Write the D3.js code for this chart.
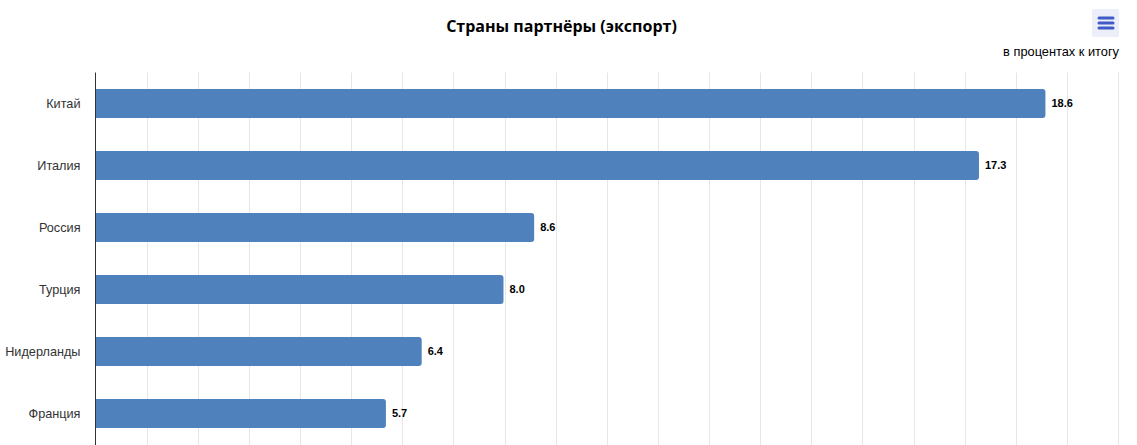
<!DOCTYPE html>
<html>
<head>
<meta charset="utf-8">
<script src="https://cdn.jsdelivr.net/npm/d3@7"></script>
<style>
  body { margin: 0; background: #fff; }
  svg { display: block; }
</style>
</head>
<body>
<div id="chart"></div>
<script>
// chart data
const categories = ["Китай", "Италия", "Россия", "Турция", "Нидерланды", "Франция"];
const values = [18.6, 17.3, 8.6, 8.0, 6.4, 5.7];
const gridTicks = d3.range(0, 21, 1);

const width = 1137, height = 445;
const margin = { top: 72.5, right: 19, bottom: 0.5, left: 95.5 };

const svg = d3.select("#chart").append("svg")
    .attr("width", width)
    .attr("height", height);

const x = d3.scaleLinear()
    .domain([0, 20])
    .range([margin.left, width - margin.right]);

const y = d3.scaleBand()
    .domain(categories)
    .range([margin.top, height - margin.bottom])
    .paddingInner(0.53)
    .paddingOuter(0.265);

// vertical grid lines
svg.append("g")
    .selectAll("line")
    .data(gridTicks.slice(1))
    .enter()
    .append("line")
    .attr("x1", d => Math.round(x(d)) + 0.5)
    .attr("x2", d => Math.round(x(d)) + 0.5)
    .attr("y1", margin.top)
    .attr("y2", height)
    .attr("stroke", "#e6e6e6")
    .attr("stroke-width", 1);

// bars with rounded right end
const r = 3;
const barPath = (d, i) => {
    const x0 = x(0), x1 = x(d) - 1, y0 = y(categories[i]), h = y.bandwidth();
    return `M${x0},${y0}H${x1 - r}Q${x1},${y0} ${x1},${y0 + r}` +
           `V${y0 + h - r}Q${x1},${y0 + h} ${x1 - r},${y0 + h}H${x0}Z`;
};

svg.append("g")
    .selectAll("path")
    .data(values)
    .enter()
    .append("path")
    .attr("class", "bar")
    .attr("d", barPath)
    .attr("fill", "#4f81bd");

// data labels
svg.append("g")
    .selectAll("text")
    .data(values)
    .enter()
    .append("text")
    .attr("x", d => x(d) + 5)
    .attr("y", (d, i) => y(categories[i]) + y.bandwidth() / 2)
    .attr("dy", "0.35em")
    .attr("font-family", "Liberation Sans, Arial, sans-serif")
    .attr("font-size", 11)
    .attr("font-weight", "bold")
    .attr("fill", "#000")
    .text(d => d.toFixed(1));

// category axis
const yAxis = svg.append("g")
    .attr("transform", `translate(${margin.left},0)`)
    .call(d3.axisLeft(y).tickSize(0).tickPadding(15));

yAxis.select(".domain")
    .attr("stroke", "#333")
    .attr("d", `M0,${margin.top}V${height}`);

yAxis.selectAll("text")
    .attr("font-family", "Liberation Sans, Arial, sans-serif")
    .attr("font-size", 12.7)
    .attr("fill", "#333");

// title and subtitle
svg.append("text")
    .attr("x", width / 2 - 7)
    .attr("y", 32)
    .attr("text-anchor", "middle")
    .attr("font-family", "Open Sans, Noto Sans, sans-serif")
    .attr("font-size", 16)
    .attr("font-weight", "bold")
    .attr("fill", "#000")
    .text("Страны партнёры (экспорт)");

svg.append("text")
    .attr("x", 1119)
    .attr("y", 56)
    .attr("text-anchor", "end")
    .attr("font-family", "Liberation Sans, Arial, sans-serif")
    .attr("font-size", 12.8)
    .attr("fill", "#000")
    .text("в процентах к итогу");

// menu button
const menu = svg.append("g").attr("transform", "translate(1092,9)");
menu.append("rect")
    .attr("width", 27)
    .attr("height", 28)
    .attr("rx", 2)
    .attr("fill", "#eceffa");
menu.selectAll("line")
    .data([9, 14, 19])
    .enter()
    .append("line")
    .attr("x1", 7)
    .attr("x2", 21)
    .attr("y1", d => d)
    .attr("y2", d => d)
    .attr("stroke", "#3f5bc6")
    .attr("stroke-width", 3)
    .attr("stroke-linecap", "round");
</script>
</body>
</html>
